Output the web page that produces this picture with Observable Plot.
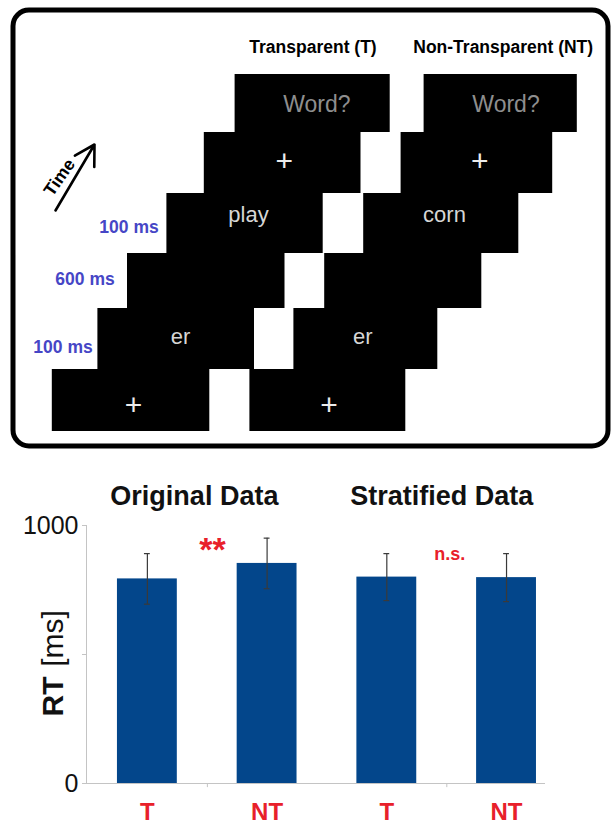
<!DOCTYPE html>
<html><head><meta charset="utf-8">
<script src="https://cdn.jsdelivr.net/npm/d3@7"></script>
<script src="https://cdn.jsdelivr.net/npm/@observablehq/plot@0.6"></script>
<style>
body{margin:0;background:#fff;}
svg{display:block;}
</style>
</head><body>
<div id="top"></div><div id="bottom"></div>
<script>
const font = "Liberation Sans, Arial, Helvetica, sans-serif";

// ---------- Top panel: trial design ----------
const conditionTitles = ["Transparent (T)", "Non-Transparent (NT)"];
const stimuliT = ["Word?", "+", "play", "", "er", "+"];
const stimuliNT = ["Word?", "+", "corn", "", "er", "+"];
const durationLabels = ["100 ms", "600 ms", "100 ms"];
const timeLabel = "Time";

// diagram layout (pixel space of the diagram)
const screenLeftT  = [234.6, 203.8, 166.4, 127.0, 97.4, 51.8];
const screenRightT = [389.7, 360.5, 322.7, 284.5, 254.0, 209.3];
const screenLeftNT  = [423.6, 400.6, 363.2, 324.2, 293.4, 249.4];
const screenRightNT = [576.8, 552.2, 518.3, 481.3, 437.3, 405.3];
const screenTop    = [74, 132, 193, 253, 308, 369];
const screenBottom = [132, 193, 253, 308, 369, 431];
const labelXT  = [316.4, 283.7, 248.0, 0, 180.0, 133.0];
const labelXNT = [505.5, 479.3, 444.0, 0, 362.4, 328.5];
const labelY   = [104, 161, 214, 0, 336, 405];
const titleX = [312.5, 502.7];
const durationX = [128.5, 84.5, 62.5];
const durationY = [227, 279, 347];

const screens = [];
stimuliT.forEach((s, i) => screens.push({x1: screenLeftT[i], x2: screenRightT[i], y1: screenTop[i], y2: screenBottom[i]}));
stimuliNT.forEach((s, i) => screens.push({x1: screenLeftNT[i], x2: screenRightNT[i], y1: screenTop[i], y2: screenBottom[i]}));

const stimText = [];
stimuliT.forEach((s, i) => { if (s) stimText.push({x: labelXT[i], y: labelY[i], s}); });
stimuliNT.forEach((s, i) => { if (s) stimText.push({x: labelXNT[i], y: labelY[i], s}); });
const styleOf = s => s === "Word?" ? {c: "#8e8e8e", f: 23} : s === "+" ? {c: "#ececec", f: 30} : {c: "#d6d6d6", f: 22};

const topPlot = Plot.plot({
  width: 611, height: 450,
  margin: 0,
  style: {fontFamily: font, background: "#fff"},
  x: {domain: [0, 611], range: [0, 611], axis: null},
  y: {domain: [0, 450], range: [0, 450], axis: null},
  marks: [
    Plot.rect([{x1: 13, x2: 608, y1: 10, y2: 446}], {x1: "x1", x2: "x2", y1: "y1", y2: "y2", fill: "none", stroke: "black", strokeWidth: 5, rx: 16}),
    Plot.rect(screens, {x1: "x1", x2: "x2", y1: "y1", y2: "y2", fill: "black"}),
    Plot.text(stimText.filter(d => d.s === "Word?"), {x: "x", y: "y", text: "s", fill: styleOf("Word?").c, fontSize: styleOf("Word?").f}),
    Plot.text(stimText.filter(d => d.s === "+"), {x: "x", y: "y", text: "s", fill: styleOf("+").c, fontSize: styleOf("+").f}),
    Plot.text(stimText.filter(d => d.s !== "+" && d.s !== "Word?"), {x: "x", y: "y", text: "s", fill: styleOf("play").c, fontSize: styleOf("play").f}),
    Plot.text(conditionTitles.map((t, i) => ({t, x: titleX[i], y: 46.4})), {x: "x", y: "y", text: "t", fontSize: 17.5, fontWeight: "bold", fill: "black"}),
    Plot.text(durationLabels.map((t, i) => ({t, x: durationX[i], y: durationY[i]})), {x: "x", y: "y", text: "t", fontSize: 17.5, fontWeight: "bold", fill: "#4646c6"}),
    Plot.arrow([{x1: 55, y1: 210, x2: 94, y2: 144}], {x1: "x1", y1: "y1", x2: "x2", y2: "y2", stroke: "black", strokeWidth: 2.6, headLength: 13, bend: 0}),
    Plot.text([{t: timeLabel, x: 59, y: 177}], {x: "x", y: "y", text: "t", rotate: -55, fontSize: 17.5, fontWeight: "bold", fill: "black"})
  ]
});
document.getElementById("top").append(topPlot);

// ---------- Bottom panel: reaction times ----------
const keys = ["Original-T", "Original-NT", "Stratified-T", "Stratified-NT"];
const groupTitles = ["Original Data", "Stratified Data"];
const condLabels = ["T", "NT", "T", "NT"];
const meanRT = [793, 853, 800, 798];
const errRT = [98, 98, 91, 93];
const yTicks = [0, 500, 1000];
const sigLabels = ["**", "n.s."];

const rows = keys.map((k, i) => ({key: k, label: condLabels[i], rt: meanRT[i], lo: meanRT[i] - errRT[i], hi: meanRT[i] + errRT[i]}));
const labelOf = Object.fromEntries(rows.map(d => [d.key, d.label]));
const red = "#e8202a";
const axisGray = "#c4c4c4";

const bottomPlot = Plot.plot({
  width: 611, height: 373,
  marginTop: 75, marginBottom: 40, marginLeft: 86, marginRight: 66,
  style: {fontFamily: font, background: "#fff", overflow: "visible"},
  x: {domain: keys, paddingInner: 0.5, paddingOuter: 0.167, align: 0.774, round: false, label: null, axis: null},
  y: {domain: [0, 1000], label: null, axis: null},
  marks: [
    Plot.frame({anchor: "left", stroke: axisGray}),
    Plot.barY(rows, {x: "key", y: "rt", fill: "#03468b"}),
    Plot.ruleY([0], {stroke: axisGray}),
    Plot.ruleX([keys[0], keys[2]], {x: d => d, y1: 0, y2: -16, dx: 60, stroke: axisGray}),
    Plot.ruleX(rows, {x: "key", y1: "lo", y2: "hi", stroke: "#3a3a3a", strokeWidth: 1.2}),
    Plot.tickY(rows, {x: "key", y: "hi", stroke: "#3a3a3a", strokeWidth: 1.2, inset: 27}),
    Plot.tickY(rows, {x: "key", y: "lo", stroke: "#3a3a3a", strokeWidth: 1.2, inset: 27}),
    Plot.axisY(yTicks, {tickSize: 4, tickPadding: 4, tickFormat: d => d === 500 ? "" : String(d), fontSize: 25, stroke: axisGray, fill: "#111"}),
    Plot.axisX({tickFormat: k => labelOf[k], tickSize: 0, tickPadding: 19, fontSize: 24, fontWeight: "bold", fill: red}),
    Plot.text([{k: keys[0], t: groupTitles[0]}], {x: "k", text: "t", frameAnchor: "top", dx: 47, dy: -39.5, fontSize: 27, fontWeight: "bold", fill: "#111"}),
    Plot.text([{k: keys[2], t: groupTitles[1]}], {x: "k", text: "t", frameAnchor: "top", dx: 55, dy: -39.5, fontSize: 27, fontWeight: "bold", fill: "#111"}),
    Plot.text([{k: keys[0], t: sigLabels[0], v: 903}], {x: "k", y: "v", text: "t", dx: 65, fontSize: 34, fontWeight: "bold", fill: red}),
    Plot.text([{k: keys[2], t: sigLabels[1], v: 889}], {x: "k", y: "v", text: "t", dx: 63, fontSize: 18, fontWeight: "bold", fill: red}),
    Plot.text(["RT"], {text: d => d, frameAnchor: "left", textAnchor: "middle", dx: -33, dy: 42, rotate: -90, fontSize: 30, fontWeight: "bold", fill: "#111"}),
    Plot.text(["[ms]"], {text: d => d, frameAnchor: "left", textAnchor: "middle", dx: -33, dy: -16, rotate: -90, fontSize: 30, fill: "#111"})
  ]
});
document.getElementById("bottom").append(bottomPlot);
</script>
</body></html>
